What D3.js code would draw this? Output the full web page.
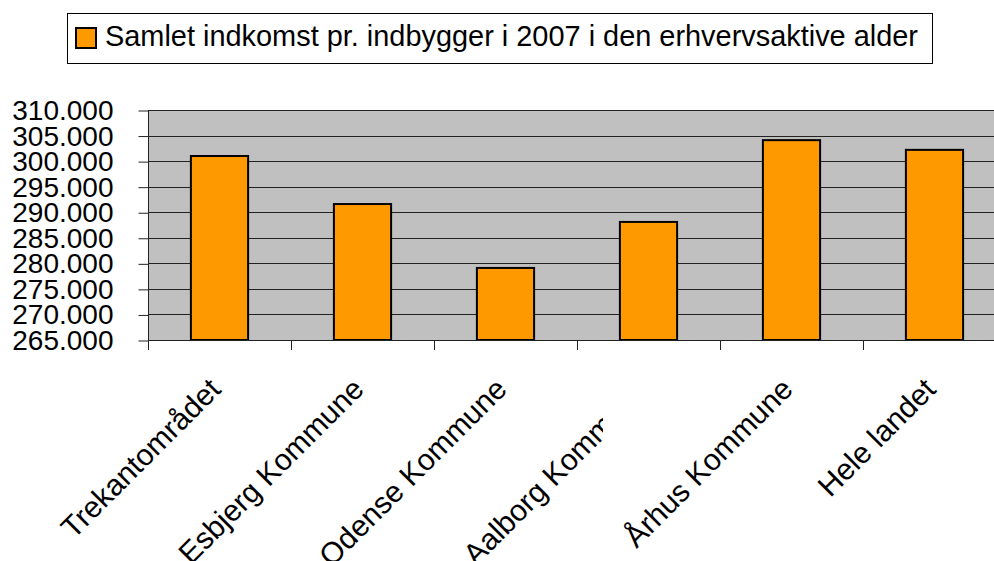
<!DOCTYPE html>
<html>
<head>
<meta charset="utf-8">
<script src="https://cdn.jsdelivr.net/npm/d3@7"></script>
<style>
	body { margin: 0; background: white; }
	text { font-family: "Liberation Sans", Arial, sans-serif; fill: black; }
</style>
</head>
<body>
<div id="chart-container"></div>
<script>
// Data
const categories = [
	"Trekantområdet",
	"Esbjerg Kommune",
	"Odense Kommune",
	"Aalborg Kommune",
	"Århus Kommune",
	"Hele landet",
];
const incomeValues = [301000, 291600, 279100, 288100, 304100, 302200];
const yTicks = [265000, 270000, 275000, 280000, 285000, 290000, 295000, 300000, 305000, 310000];
const seriesName = "Samlet indkomst pr. indbygger i 2007 i den erhvervsaktive alder";

const width = 994;
const height = 561;

// Plot area (runs past the right edge like the original)
const plotLeft = 148;
const plotTop = 110;
const plotBottom = 340;
const step = 143;

// Danish number format: 310.000
const danish = d3.formatLocale({ decimal: ",", thousands: ".", grouping: [3], currency: ["", " kr."] });
const formatter = danish.format(",.0f");

const svg = d3
	.select("#chart-container")
	.append("svg")
	.attr("width", width)
	.attr("height", height);

const x = d3
	.scaleBand()
	.domain(categories)
	.range([plotLeft, plotLeft + step * categories.length])
	.padding(0);

const y = d3.scaleLinear().domain([265000, 310000]).range([plotBottom, plotTop]);

// Grey background
svg
	.append("rect")
	.attr("x", plotLeft)
	.attr("y", plotTop)
	.attr("width", step * categories.length)
	.attr("height", plotBottom - plotTop)
	.attr("fill", "#c0c0c0");

// Gridlines
svg
	.append("g")
	.selectAll("line")
	.data(yTicks)
	.enter()
	.append("line")
	.attr("x1", plotLeft)
	.attr("x2", plotLeft + step * categories.length)
	.attr("y1", (d) => Math.round(y(d)) + 0.5)
	.attr("y2", (d) => Math.round(y(d)) + 0.5)
	.attr("stroke", "#222")
	.attr("stroke-width", 1);

// Bars (gap width 150%)
const barWidth = x.bandwidth() / 2.5;
svg
	.append("g")
	.selectAll("rect")
	.data(incomeValues)
	.enter()
	.append("rect")
	.attr("x", (d, i) => x(categories[i]) + (x.bandwidth() - barWidth) / 2)
	.attr("y", (d) => y(d))
	.attr("width", barWidth)
	.attr("height", (d) => plotBottom - y(d))
	.attr("fill", "#ff9900")
	.attr("stroke", "black")
	.attr("stroke-width", 2);

// Y axis
const yAxis = d3
	.axisLeft(y)
	.tickValues(yTicks)
	.tickSize(10)
	.tickPadding(25)
	.tickFormat(formatter);

svg
	.append("g")
	.attr("transform", `translate(${plotLeft + 0.5}, 0.5)`)
	.call(yAxis)
	.call((g) => g.select(".domain").remove())
	.call((g) => g.selectAll("line").attr("stroke", "#222"))
	.call((g) =>
		g
			.selectAll("text")
			.style("font-size", "28px")
			.style("font-family", "'Liberation Sans', Arial, sans-serif")
			.attr("fill", "black")
	);

svg
	.append("line")
	.attr("x1", plotLeft + 0.5)
	.attr("x2", plotLeft + 0.5)
	.attr("y1", plotTop)
	.attr("y2", plotBottom)
	.attr("stroke", "#222");

// X axis with ticks between categories
const xBounds = categories.map((c) => x(c));
svg
	.append("line")
	.attr("x1", plotLeft)
	.attr("x2", plotLeft + step * categories.length)
	.attr("y1", plotBottom + 0.5)
	.attr("y2", plotBottom + 0.5)
	.attr("stroke", "#222");

svg
	.append("g")
	.selectAll("line")
	.data(xBounds)
	.enter()
	.append("line")
	.attr("x1", (d) => Math.round(d) + 0.5)
	.attr("x2", (d) => Math.round(d) + 0.5)
	.attr("y1", plotBottom)
	.attr("y2", plotBottom + 10)
	.attr("stroke", "#222");

// Clip for the cut-off Aalborg label
svg
	.append("defs")
	.append("clipPath")
	.attr("id", "aalborg-clip")
	.append("rect")
	.attr("x", 0)
	.attr("y", 0)
	.attr("width", 603)
	.attr("height", height);

svg
	.append("g")
	.selectAll("text")
	.data(categories)
	.enter()
	.append("g")
	.attr("clip-path", (d) => (d === "Aalborg Kommune" ? "url(#aalborg-clip)" : null))
	.append("text")
	.attr("transform", (d) => `translate(${x(d) + x.bandwidth() / 2 + 3}, 391) rotate(-45)`)
	.attr("text-anchor", "end")
	.style("font-size", "30px")
	.text((d) => d);

// Legend
const legend = svg.append("g").attr("id", "legend");

legend
	.append("rect")
	.attr("x", 67.5)
	.attr("y", 13.5)
	.attr("width", 865)
	.attr("height", 50)
	.attr("fill", "white")
	.attr("stroke", "black")
	.attr("stroke-width", 1);

legend
	.append("rect")
	.attr("x", 76)
	.attr("y", 28)
	.attr("width", 20)
	.attr("height", 20)
	.attr("fill", "#ff9900")
	.attr("stroke", "black")
	.attr("stroke-width", 2);

legend
	.append("text")
	.attr("x", 105)
	.attr("y", 46)
	.attr("textLength", 813)
	.attr("lengthAdjust", "spacingAndGlyphs")
	.style("font-size", "30px")
	.text(seriesName);
</script>
</body>
</html>
